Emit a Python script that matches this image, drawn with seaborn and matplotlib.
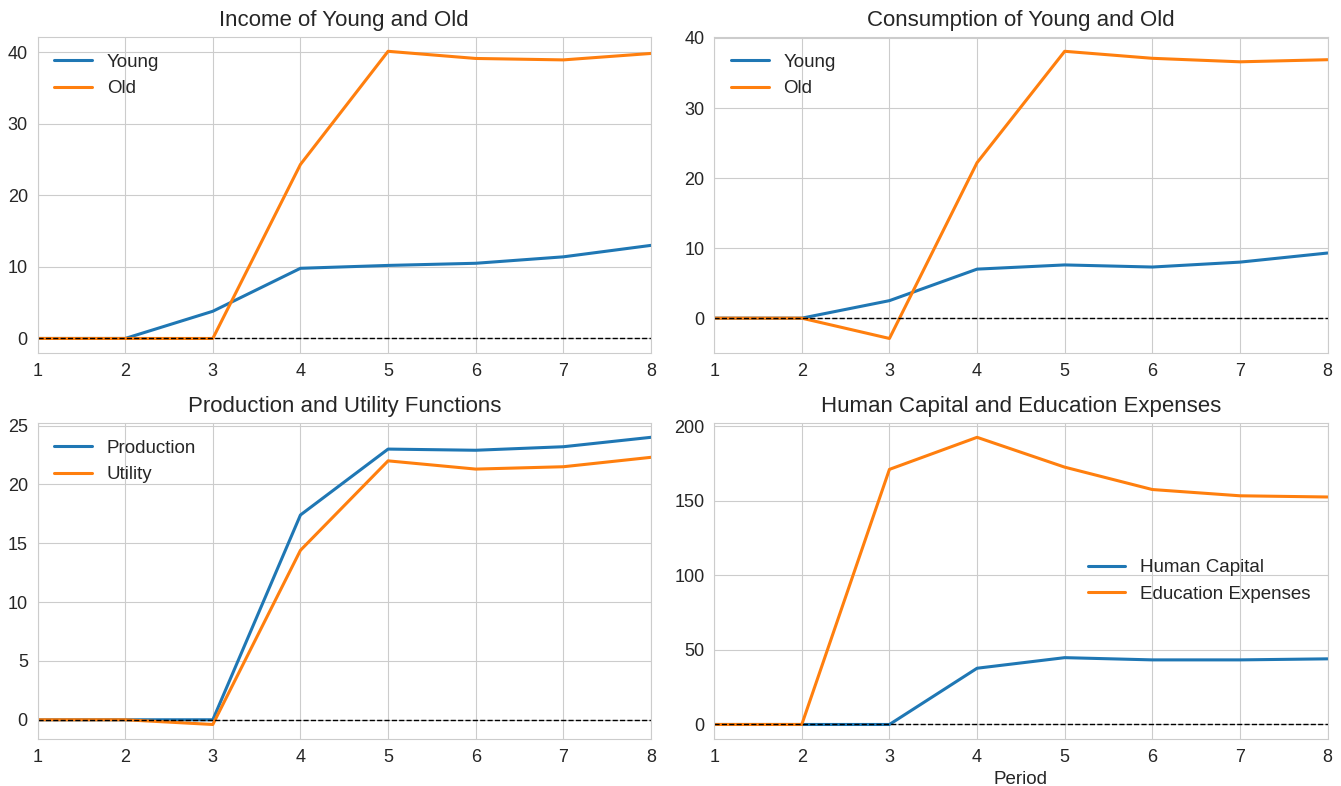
import seaborn as sns
import matplotlib.pyplot as plt
from matplotlib.ticker import MultipleLocator

# data
periods = [1, 2, 3, 4, 5, 6, 7, 8]

income_young = [0.0, 0.0, 3.8, 9.8, 10.2, 10.5, 11.4, 13.0]
income_old = [0.0, 0.0, 0.0, 24.3, 40.1, 39.1, 38.9, 39.8]

cons_young = [0.0, 0.0, 2.5, 7.0, 7.6, 7.3, 8.0, 9.3]
cons_old = [0.0, 0.0, -2.9, 22.2, 38.1, 37.1, 36.6, 36.9]

production = [0.0, 0.0, 0.0, 17.4, 23.0, 22.9, 23.2, 24.0]
utility = [0.0, 0.0, -0.4, 14.4, 22.0, 21.3, 21.5, 22.3]

human_capital = [0.0, 0.0, 0.0, 37.7, 44.8, 43.3, 43.3, 44.0]
edu_expenses = [0.0, 0.0, 171.0, 192.5, 172.5, 157.5, 153.3, 152.5]

titles = ["Income of Young and Old", "Consumption of Young and Old",
          "Production and Utility Functions", "Human Capital and Education Expenses"]
series = [
    [(income_young, "Young"), (income_old, "Old")],
    [(cons_young, "Young"), (cons_old, "Old")],
    [(production, "Production"), (utility, "Utility")],
    [(human_capital, "Human Capital"), (edu_expenses, "Education Expenses")],
]
legend_loc = ["upper left", "upper left", "upper left", "center right"]
y_steps = [10, 10, 5, 50]

sns.set_style("whitegrid")
plt.rcParams['font.family'] = ['Liberation Sans', 'DejaVu Sans']

fig, axes = plt.subplots(2, 2, figsize=(13.41, 7.86), dpi=100)
colors = ["#1f77b4", "#ff7f0e"]

for ax, title, pair, loc, step in zip(axes.flat, titles, series, legend_loc, y_steps):
    for (vals, name), c in zip(pair, colors):
        sns.lineplot(x=periods, y=vals, ax=ax, color=c, linewidth=2.2, label=name)
    ax.axhline(0, color="black", linestyle="--", linewidth=1)
    ax.set_xlim(1, 8)
    ax.yaxis.set_major_locator(MultipleLocator(step))
    ax.set_title(title, fontsize=16, color=".15", pad=8)
    ax.legend(loc=loc, frameon=False, fontsize=13.5)
    ax.tick_params(labelsize=13, labelcolor=".15")

axes[1, 1].set_xlabel("Period", fontsize=13.5, color=".15")

fig.subplots_adjust(left=0.028, right=0.99, top=0.953, bottom=0.06, wspace=0.103, hspace=0.222)
plt.savefig("out.png", dpi=100)
